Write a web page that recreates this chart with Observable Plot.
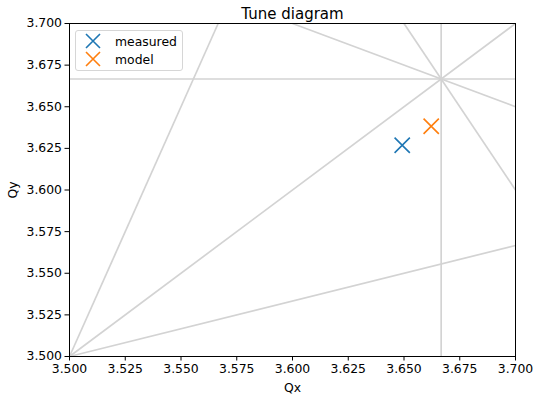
<!DOCTYPE html>
<html>
<head>
<meta charset="utf-8">
<script src="https://cdn.jsdelivr.net/npm/d3@7"></script>
<script src="https://cdn.jsdelivr.net/npm/@observablehq/plot@0.6"></script>
<style>
  html, body { margin: 0; padding: 0; background: #fff; }
  #wrap { position: relative; width: 536px; height: 396px; font-family: "DejaVu Sans", sans-serif; }
  #legend { position: absolute; left: 75px; top: 30px; width: 106px; height: 39px;
    border: 1px solid #d6d6d6; border-radius: 3px; background: rgba(255,255,255,0.8);
    font-size: 12.4px; color: #000; }
  .item { position: absolute; left: 0; height: 18px; display: flex; align-items: center; }
  .item svg { margin-left: 9px; }
  .item span { margin-left: 14px; }
</style>
</head>
<body>
<div id="wrap"></div>
<script>
// Data
const seriesNames = ["measured", "model"];
const seriesColors = ["#1f77b4", "#ff7f0e"];
const qxValues = [3.6492, 3.6622];
const qyValues = [3.6269, 3.6383];

// Resonance line segments (endpoints in tune units)
const resX1 = [11/3, 3.5, 3.5, 3.5, 3.5, 3.65, 3.6];
const resY1 = [3.5, 11/3, 3.5, 3.5, 3.5, 3.7, 3.7];
const resX2 = [11/3, 3.7, 3.7, 3.5 + 0.2/3, 3.7, 3.7, 3.7];
const resY2 = [3.7, 11/3, 3.7, 3.7, 3.5 + 0.2/3, 3.6, 3.65];

const xTicks = [3.5, 3.525, 3.55, 3.575, 3.6, 3.625, 3.65, 3.675, 3.7];
const yTicks = [3.5, 3.525, 3.55, 3.575, 3.6, 3.625, 3.65, 3.675, 3.7];
const title = "Tune diagram";

const points = seriesNames.map((n, i) => ({name: n, qx: qxValues[i], qy: qyValues[i]}));
const segs = resX1.map((_, i) => ({x1: resX1[i], y1: resY1[i], x2: resX2[i], y2: resY2[i]}));

const fmt = d3.format(".3f");
const chart = Plot.plot({
  width: 536,
  height: 396,
  marginLeft: 69,
  marginRight: 21,
  marginTop: 23,
  marginBottom: 40,
  style: {fontFamily: "DejaVu Sans, sans-serif", fontSize: "12.4px", color: "#000", background: "#fff"},
  x: {domain: [3.5, 3.7]},
  y: {domain: [3.5, 3.7]},
  color: {domain: seriesNames, range: seriesColors},
  marks: [
    Plot.link(segs, {x1: "x1", y1: "y1", x2: "x2", y2: "y2", stroke: "#d3d3d3", strokeWidth: 1.7}),
    Plot.dot(points, {x: "qx", y: "qy", stroke: "name", symbol: "times", r: 7, strokeWidth: 1.6}),
    Plot.frame({stroke: "#000", strokeWidth: 1}),
    Plot.axisX({ticks: xTicks, tickFormat: fmt, tickSize: 4.5, tickPadding: 3, fontSize: 12.4, label: "Qx", labelAnchor: "center", labelArrow: false, labelOffset: 35}),
    Plot.axisY({ticks: yTicks, tickFormat: fmt, tickSize: 4.5, tickPadding: 3, fontSize: 12.4, label: "Qy", labelAnchor: "center", labelArrow: false, labelOffset: 61}),
    Plot.text([title], {frameAnchor: "top", lineAnchor: "bottom", dy: -5, fontSize: 15, text: d => d})
  ]
});
const wrap = document.getElementById("wrap");
wrap.appendChild(chart);

// Legend
const leg = document.createElement("div");
leg.id = "legend";
seriesNames.forEach((n, i) => {
  const it = document.createElement("div");
  it.className = "item";
  it.style.top = (1 + i * 18) + "px";
  it.innerHTML = `<svg width="16" height="16" viewBox="-8 -8 16 16"><path d="M-7,-7L7,7M-7,7L7,-7" stroke="${seriesColors[i]}" stroke-width="1.6" fill="none"/></svg><span>${n}</span>`;
  leg.appendChild(it);
});
wrap.appendChild(leg);
</script>
</body>
</html>
